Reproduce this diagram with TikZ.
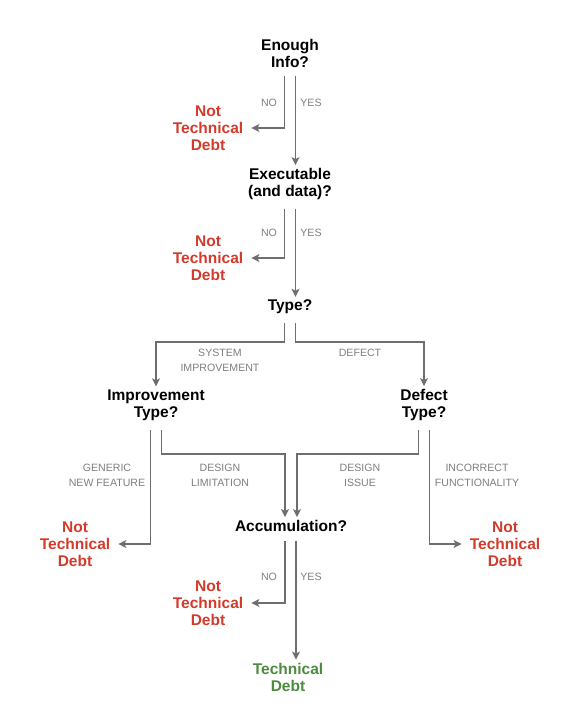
\documentclass[tikz,border=0pt]{standalone}
\usepackage{fontspec}
\setmainfont{Liberation Sans}
\definecolor{redcol}{HTML}{D23B2B}
\definecolor{greencol}{HTML}{4C8A3E}
\definecolor{linecol}{HTML}{6E6E6E}
\definecolor{labelcol}{HTML}{7E7E7E}
\usetikzlibrary{arrows.meta,calc}

\begin{document}
\begin{tikzpicture}[x=1pt,y=-1pt,
  ask/.style={align=center, inner sep=0pt, font=\fontsize{15.5}{17}\selectfont\bfseries},
  notdebt/.style={ask, text=redcol, inner xsep=5pt},
  debt/.style={ask, text=greencol},
  lbl/.style={align=center, text=labelcol, font=\fontsize{10.6}{15}\selectfont},
  flow/.style={draw=linecol, line width=1.6pt, -{Stealth[length=8pt,width=8pt,inset=2pt]},
    shorten <=9pt, shorten >=3pt}]

\useasboundingbox (0,0) rectangle (584,720);

% === questions ===
\node[ask] (enough) at (290,53) {Enough\\Info?};
\node[ask] (exec) at (290,184) {Executable\\(and data)?};
\node[ask] (type) at (290,307) {Type?};
\node[ask] (imptype) at (156,405) {Improvement\\Type?};
\node[ask] (deftype) at (424,405) {Defect\\Type?};
\node[ask] (accum) at (291,526) {Accumulation?};

% === outcomes ===
\node[notdebt] (nd1) at (208,128) {Not\\Technical\\Debt};
\node[notdebt] (nd2) at (208,258) {Not\\Technical\\Debt};
\node[notdebt] (nd3) at (75,544) {Not\\Technical\\Debt};
\node[notdebt] (nd4) at (505,544) {Not\\Technical\\Debt};
\node[notdebt] (nd5) at (208,603) {Not\\Technical\\Debt};
\node[debt] (td) at (288,677) {Technical\\Debt};

% === branch labels ===
\node[lbl] (no1) at (269,103) {NO};
\node[lbl] (yes1) at (311,103) {YES};
\node[lbl] (no2) at (269,233) {NO};
\node[lbl] (yes2) at (311,233) {YES};
\node[lbl] (sysimp) at (220,360.5) {SYSTEM\\IMPROVEMENT};
\node[lbl] (defect) at (360,353) {DEFECT};
\node[lbl] (generic) at (107,475) {GENERIC\\NEW FEATURE};
\node[lbl] (designlim) at (220,475) {DESIGN\\LIMITATION};
\node[lbl] (designiss) at (360,475) {DESIGN\\ISSUE};
\node[lbl] (incorrect) at (477,475) {INCORRECT\\FUNCTIONALITY};
\node[lbl] (no3) at (269,577) {NO};
\node[lbl] (yes3) at (311,577) {YES};

\coordinate (fork1) at (0,342);
\coordinate (fork2) at (0,454);

% === connectors ===
\draw[flow] ($(enough.south)+(-5.5,0)$) |- (nd1.east);
\draw[flow] ($(enough.south)+(5.5,0)$) -- ($(exec.north)+(5.5,0)$);
\draw[flow] ($(exec.south)+(-5.5,0)$) |- (nd2.east);
\draw[flow] ($(exec.south)+(5.5,0)$) -- ($(type.north -| exec.south)+(5.5,0)$);

\draw[flow] ($(type.south)+(-5.5,0)$) |- (fork1 -| imptype.north) -- (imptype.north);
\draw[flow] ($(type.south)+(5.5,0)$) |- (fork1 -| deftype.north) -- (deftype.north);

\draw[flow] ($(imptype.south)+(-5.5,0)$) |- (nd3.east);
\draw[flow] ($(imptype.south)+(5.5,0)$) |- ($(fork2 -| accum.north)+(-6,0)$) -- ($(accum.north)+(-6,0)$);
\draw[flow] ($(deftype.south)+(-5.5,0)$) |- ($(fork2 -| accum.north)+(6,0)$) -- ($(accum.north)+(6,0)$);
\draw[flow] ($(deftype.south)+(5.5,0)$) |- (nd4.west);

\draw[flow] ($(accum.south)+(-6,0)$) |- (nd5.east);
\draw[flow] ($(accum.south)+(5,0)$) -- ($(td.north -| accum.south)+(5,0)$);

\end{tikzpicture}
\end{document}
